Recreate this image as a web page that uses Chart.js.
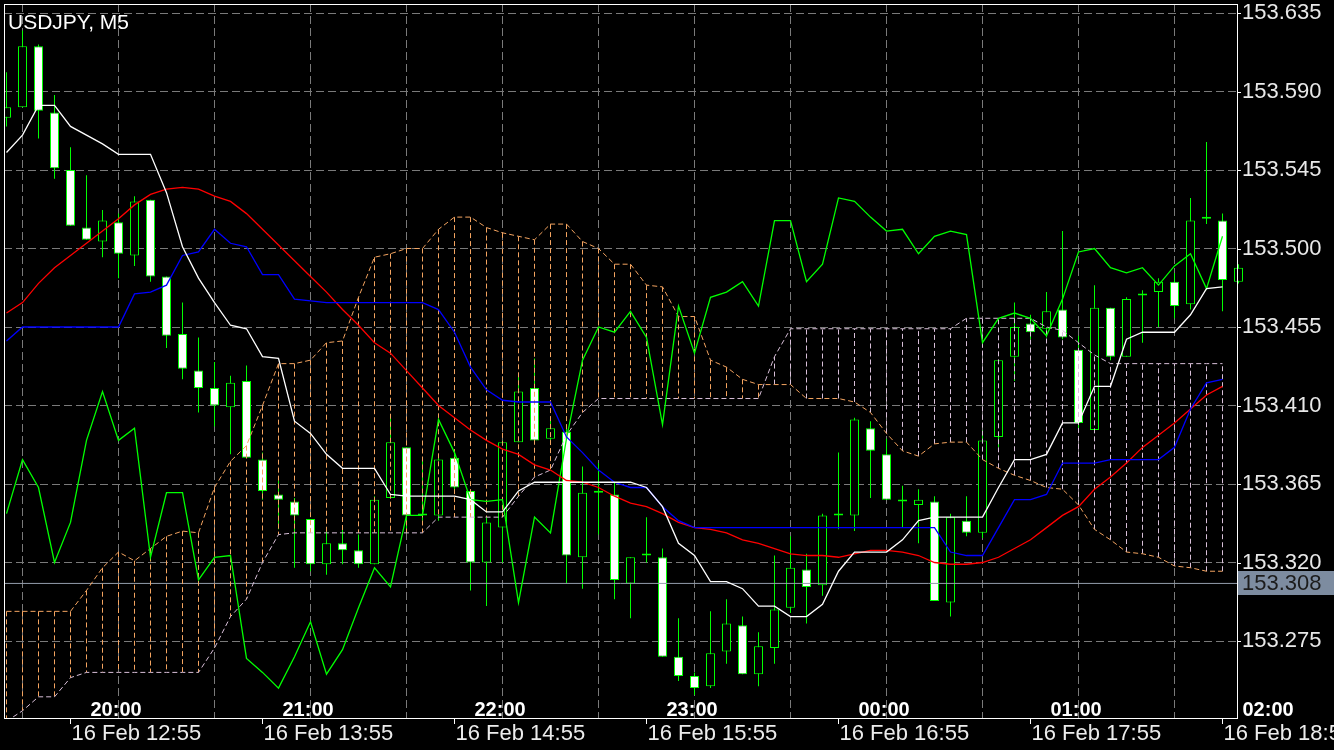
<!DOCTYPE html>
<html>
<head>
<meta charset="utf-8">
<title>USDJPY, M5</title>
<script src="https://cdn.jsdelivr.net/npm/chart.js@4.4.1/dist/chart.umd.min.js"></script>
<style>
  html, body { margin: 0; padding: 0; background: #000; overflow: hidden; }
  #wrap { width: 1334px; height: 750px; }
</style>
</head>
<body>
<div id="wrap"><canvas id="fxChart" width="1334" height="750"></canvas></div>
<script>
// ==========================================
// data (M5 bars)
// ==========================================
const symbolTitle = 'USDJPY, M5';
const bidPrice = 153.308;
const priceTicks = [153.635, 153.590, 153.545, 153.500, 153.455, 153.410, 153.365, 153.320, 153.275];
const hourLabels = ['20:00', '21:00', '22:00', '23:00', '00:00', '01:00', '02:00'];
const dateLabels = ['16 Feb 12:55', '16 Feb 13:55', '16 Feb 14:55', '16 Feb 15:55', '16 Feb 16:55', '16 Feb 17:55', '16 Feb 18:55'];

const candleOpen = [
  153.575, 153.581, 153.616, 153.578, 153.545, 153.512, 153.504, 153.515, 153.496, 153.528,
  153.484, 153.451, 153.430, 153.420, 153.409, 153.424, 153.379, 153.359, 153.355, 153.345,
  153.319, 153.331, 153.327, 153.319, 153.357, 153.386, 153.347, 153.347, 153.380, 153.361,
  153.320, 153.340, 153.389, 153.420, 153.391, 153.395, 153.323, 153.360, 153.359, 153.308,
  153.324, 153.323, 153.266, 153.255, 153.249, 153.269, 153.284, 153.256, 153.271, 153.294,
  153.316, 153.307, 153.347, 153.347, 153.397, 153.382, 153.355, 153.353, 153.355, 153.297,
  153.344, 153.337, 153.392, 153.438, 153.457, 153.454, 153.465, 153.442, 153.396, 153.466,
  153.438, 153.474, 153.475, 153.481, 153.468, 153.518, 153.516, 153.481
];
const candleHigh = [
  153.601, 153.625, 153.617, 153.588, 153.558, 153.542, 153.522, 153.520, 153.530, 153.528,
  153.484, 153.469, 153.449, 153.435, 153.427, 153.433, 153.383, 153.367, 153.357, 153.345,
  153.338, 153.339, 153.336, 153.358, 153.403, 153.386, 153.379, 153.382, 153.382, 153.361,
  153.346, 153.390, 153.427, 153.437, 153.402, 153.398, 153.375, 153.377, 153.366, 153.323,
  153.346, 153.328, 153.288, 153.257, 153.292, 153.299, 153.289, 153.280, 153.324, 153.335,
  153.325, 153.348, 153.383, 153.403, 153.401, 153.391, 153.364, 153.362, 153.358, 153.348,
  153.358, 153.396, 153.436, 153.469, 153.462, 153.475, 153.510, 153.450, 153.479, 153.466,
  153.472, 153.476, 153.483, 153.486, 153.529, 153.561, 153.520, 153.491
];
const candleLow = [
  153.570, 153.581, 153.563, 153.540, 153.513, 153.505, 153.495, 153.483, 153.490, 153.481,
  153.443, 153.425, 153.406, 153.398, 153.382, 153.380, 153.356, 153.339, 153.317, 153.315,
  153.313, 153.319, 153.317, 153.319, 153.357, 153.337, 153.344, 153.344, 153.362, 153.304,
  153.295, 153.320, 153.389, 153.390, 153.389, 153.308, 153.305, 153.336, 153.299, 153.288,
  153.320, 153.266, 153.252, 153.244, 153.248, 153.262, 153.256, 153.249, 153.262, 153.291,
  153.285, 153.301, 153.339, 153.338, 153.357, 153.356, 153.340, 153.331, 153.298, 153.289,
  153.335, 153.334, 153.386, 153.424, 153.448, 153.449, 153.448, 153.396, 153.396, 153.436,
  153.438, 153.446, 153.455, 153.460, 153.465, 153.514, 153.464, 153.480
];
const candleClose = [
  153.581, 153.616, 153.579, 153.546, 153.513, 153.505, 153.516, 153.497, 153.527, 153.484,
  153.450, 153.431, 153.420, 153.410, 153.423, 153.380, 153.361, 153.356, 153.347, 153.319,
  153.331, 153.327, 153.319, 153.356, 153.389, 153.347, 153.347, 153.379, 153.363, 153.320,
  153.343, 153.389, 153.418, 153.390, 153.397, 153.324, 153.360, 153.360, 153.310, 153.323,
  153.324, 153.266, 153.255, 153.248, 153.268, 153.285, 153.256, 153.272, 153.293, 153.317,
  153.306, 153.347, 153.347, 153.402, 153.384, 153.356, 153.355, 153.356, 153.298, 153.346,
  153.337, 153.390, 153.436, 153.455, 153.452, 153.464, 153.449, 153.400, 153.466, 153.438,
  153.471, 153.473, 153.481, 153.467, 153.516, 153.517, 153.482, 153.489
];

// ichimoku + MA lines, one value per bar
const tenkanLine = [
  153.555, 153.565, 153.582, 153.582, 153.570, 153.565, 153.560, 153.554, 153.554, 153.554,
  153.532, 153.501, 153.483, 153.469, 153.456, 153.454, 153.438, 153.437, 153.401, 153.394,
  153.382, 153.374, 153.374, 153.374, 153.359, 153.358, 153.358, 153.358, 153.358, 153.356,
  153.349, 153.349, 153.361, 153.366, 153.366, 153.366, 153.366, 153.366, 153.366, 153.366,
  153.363, 153.352, 153.331, 153.324, 153.309, 153.309, 153.305, 153.295, 153.295, 153.289,
  153.289, 153.296, 153.315, 153.326, 153.326, 153.326, 153.333, 153.344, 153.346, 153.346,
  153.346, 153.346, 153.363, 153.379, 153.379, 153.382, 153.400, 153.400, 153.421, 153.421,
  153.448, 153.452, 153.452, 153.452, 153.462, 153.477, 153.478
];
const kijunLine = [
  153.447, 153.455, 153.455, 153.455, 153.455, 153.455, 153.455, 153.455, 153.474, 153.475,
  153.479, 153.496, 153.498, 153.511, 153.503, 153.501, 153.485, 153.485, 153.471, 153.470,
  153.469, 153.469, 153.469, 153.469, 153.469, 153.469, 153.469, 153.465, 153.452, 153.432,
  153.419, 153.413, 153.412, 153.412, 153.412, 153.392, 153.383, 153.373, 153.366, 153.363,
  153.363, 153.352, 153.344, 153.340, 153.340, 153.340, 153.340, 153.340, 153.340, 153.340,
  153.340, 153.340, 153.340, 153.340, 153.340, 153.340, 153.340, 153.340, 153.340, 153.326,
  153.324, 153.324, 153.340, 153.356, 153.356, 153.359, 153.377, 153.377, 153.377, 153.379,
  153.379, 153.379, 153.379, 153.386, 153.408, 153.423, 153.425
];
const maLine = [
  153.463, 153.469, 153.480, 153.489, 153.496, 153.503, 153.510, 153.517, 153.525, 153.531,
  153.534, 153.535, 153.534, 153.530, 153.527, 153.520, 153.511, 153.502, 153.493, 153.484,
  153.475, 153.465, 153.456, 153.446, 153.440, 153.430, 153.420, 153.410, 153.403, 153.396,
  153.390, 153.385, 153.382, 153.376, 153.373, 153.367, 153.366, 153.363, 153.358, 153.354,
  153.352, 153.348, 153.343, 153.340, 153.339, 153.337, 153.333, 153.331, 153.328, 153.325,
  153.324, 153.324, 153.323, 153.325, 153.327, 153.327, 153.326, 153.324, 153.320, 153.319,
  153.319, 153.320, 153.323, 153.328, 153.333, 153.340, 153.347, 153.352, 153.362, 153.369,
  153.377, 153.386, 153.393, 153.400, 153.408, 153.416, 153.421
];
const chikouLine = [
  153.348, 153.379, 153.363, 153.320, 153.343, 153.390, 153.418, 153.390, 153.397, 153.323,
  153.360, 153.360, 153.310, 153.323, 153.324, 153.265, 153.257, 153.248, 153.266, 153.286,
  153.256, 153.270, 153.294, 153.317, 153.306, 153.347, 153.347, 153.402, 153.383, 153.356,
  153.355, 153.356, 153.297, 153.346, 153.337, 153.391, 153.436, 153.455, 153.452, 153.464,
  153.449, 153.399, 153.467, 153.440, 153.472, 153.475, 153.481, 153.467, 153.516, 153.516,
  153.481, 153.491, 153.529, 153.527, 153.518, 153.510, 153.511, 153.497, 153.507, 153.510,
  153.508, 153.446, 153.460, 153.463, 153.460, 153.450, 153.471, 153.498, 153.500, 153.489,
  153.486, 153.489, 153.479, 153.490, 153.497, 153.477, 153.507
];
const spanA = [
  153.292, 153.292, 153.292, 153.292, 153.292, 153.304, 153.317, 153.326, 153.321, 153.328,
  153.335, 153.338, 153.337, 153.363, 153.378, 153.387, 153.410, 153.434, 153.434, 153.436,
  153.446, 153.447, 153.472, 153.495, 153.497, 153.500, 153.500, 153.511, 153.518, 153.518,
  153.512, 153.509, 153.507, 153.505, 153.514, 153.514, 153.504, 153.500, 153.491, 153.491,
  153.479, 153.478, 153.461, 153.461, 153.436, 153.432, 153.425, 153.422, 153.422, 153.422,
  153.414, 153.414, 153.414, 153.412, 153.406, 153.394, 153.384, 153.381, 153.388, 153.389,
  153.389, 153.379, 153.374, 153.370, 153.367, 153.363, 153.362, 153.353, 153.339, 153.333,
  153.326, 153.325, 153.323, 153.318, 153.317, 153.315, 153.315
];
const spanB = [
  153.229, 153.235, 153.243, 153.243, 153.254, 153.257, 153.257, 153.257, 153.257, 153.257,
  153.257, 153.257, 153.257, 153.271, 153.289, 153.299, 153.320, 153.336, 153.337, 153.337,
  153.337, 153.337, 153.337, 153.337, 153.337, 153.337, 153.337, 153.346, 153.346, 153.346,
  153.346, 153.346, 153.358, 153.369, 153.373, 153.393, 153.406, 153.414, 153.414, 153.414,
  153.414, 153.414, 153.414, 153.414, 153.414, 153.414, 153.414, 153.414, 153.438, 153.454,
  153.454, 153.454, 153.454, 153.454, 153.454, 153.454, 153.454, 153.454, 153.454, 153.454,
  153.460, 153.460, 153.460, 153.460, 153.460, 153.455, 153.453, 153.446, 153.439, 153.434,
  153.434, 153.434, 153.434, 153.434, 153.434, 153.434, 153.434
];

// ==========================================
// layout of the terminal window
// ==========================================
const FONT = "'Liberation Sans', Arial, sans-serif";
const BAR_PX = 16;                 // one M5 bar = 16px
const X_MIN = -2.5 / BAR_PX;       // bar 0 sits 2.5px right of the frame
const X_MAX = X_MIN + 1233 / BAR_PX;
const Y_MIN = 153.23086, Y_MAX = 153.64016;
const gridBars = [4, 10, 16, 22, 28, 34, 40, 46, 52, 58, 64, 70, 76];
const GREEN = '#00ff00', GRID = '#7a7a7a';

const pts = arr => arr.map((v, i) => ({ x: i, y: v }));

// kumo hatching: one dashed vertical per bar, coloured by which span is on top
const hatchUp = [], hatchDown = [];
spanA.forEach((a, i) => {
  const target = a >= spanB[i] ? hatchUp : hatchDown;
  target.push({ x: i, y: a }, { x: i, y: spanB[i] }, { x: i, y: null });
});

const lineDs = (label, data, color, order, extra) => Object.assign({
  type: 'line', label, data, borderColor: color, borderWidth: 1.3, pointRadius: 0,
  tension: 0, fill: false, spanGaps: false, order
}, extra || {});

const candleClip = { left: 0, top: 0, right: 6, bottom: 0 };

// ==========================================
// overlay: frame, title, time labels, bid box
// ==========================================
const terminalOverlay = {
  id: 'terminalOverlay',
  afterDraw(chart) {
    const { ctx, chartArea: a, scales: { x, y } } = chart;
    ctx.save();
    ctx.strokeStyle = '#ffffff'; ctx.lineWidth = 1;
    ctx.strokeRect(a.left + 0.5, a.top + 0.5, a.right - a.left, a.bottom - a.top);

    // little tick marks on the axes
    ctx.beginPath();
    priceTicks.forEach(p => { const py = Math.round(y.getPixelForValue(p)) + 0.5; ctx.moveTo(a.right + 1, py); ctx.lineTo(a.right + 4, py); });
    dateLabels.forEach((_, k) => { const px = Math.round(x.getPixelForValue(4 + k * 12) - 0.5) + 0.5; ctx.moveTo(px, a.bottom + 1); ctx.lineTo(px, a.bottom + 6); });
    ctx.stroke();

    // bid price box
    const by = y.getPixelForValue(bidPrice);
    ctx.fillStyle = '#7d8ca0';
    ctx.fillRect(a.right + 1, Math.round(by) - 12, chart.width - a.right - 1, 24);
    ctx.fillStyle = '#1c1c1c'; ctx.font = `22px ${FONT}`; ctx.textBaseline = 'middle'; ctx.textAlign = 'left';
    ctx.fillText(bidPrice.toFixed(3), a.right + 5, by + 1);

    // symbol title
    ctx.fillStyle = '#ffffff'; ctx.textBaseline = 'alphabetic';
    ctx.font = `21px ${FONT}`;
    ctx.fillText(symbolTitle, a.left + 4, 29);

    // hour labels inside the chart and date labels under it
    ctx.font = `bold 20px ${FONT}`;
    hourLabels.forEach((t, k) => ctx.fillText(t, x.getPixelForValue(5 + k * 12) + 4, a.bottom - 2));
    ctx.font = `22px ${FONT}`; ctx.fillStyle = '#ececec';
    dateLabels.forEach((t, k) => ctx.fillText(t, x.getPixelForValue(4 + k * 12) + 1, a.bottom + 22));
    ctx.restore();
  }
};

Chart.defaults.font.family = FONT;

new Chart(document.getElementById('fxChart').getContext('2d'), {
  type: 'line',
  data: {
    datasets: [
      lineDs('Tenkan', pts(tenkanLine), '#ffffff', 2),
      lineDs('Kijun', pts(kijunLine), '#0000ff', 3),
      lineDs('MA', pts(maLine), '#ff0000', 4),
      lineDs('Chikou', pts(chikouLine), GREEN, 5),
      lineDs('Span B', pts(spanB), '#d8bfd8', 10, { borderDash: [5, 3], borderWidth: 1 }),
      lineDs('Span A', pts(spanA), '#f4a460', 11, { borderDash: [5, 3], borderWidth: 1 }),
      lineDs('Kumo down', hatchDown, '#d8bfd8', 12, { borderDash: [5, 3], borderWidth: 1 }),
      lineDs('Kumo up', hatchUp, '#f4a460', 13, { borderDash: [5, 3], borderWidth: 1 }),
      lineDs('Bid', [{ x: X_MIN, y: bidPrice }, { x: X_MAX, y: bidPrice }], '#939dab', 20, { borderWidth: 1 }),
      {
        type: 'bar', label: 'Bodies', order: 28, grouped: false, barThickness: 9, minBarLength: 2,
        data: candleOpen.map((o, i) => ({ x: i, y: [o, candleClose[i]] })),
        backgroundColor: candleOpen.map((o, i) => candleClose[i] < o ? '#ffffff' : '#000000'),
        borderColor: GREEN, borderWidth: 1, borderSkipped: false, inflateAmount: 0, clip: candleClip
      },
      {
        type: 'bar', label: 'Wicks', order: 29, grouped: false, barThickness: 1,
        data: candleLow.map((l, i) => ({ x: i, y: [l, candleHigh[i]] })),
        backgroundColor: GREEN, borderWidth: 0, inflateAmount: 0, clip: candleClip
      }
    ]
  },
  options: {
    responsive: false, devicePixelRatio: 1, animation: false, events: [],
    layout: { padding: { left: 4, top: 4, right: 0, bottom: 0 } },
    plugins: { legend: { display: false }, tooltip: { enabled: false } },
    scales: {
      x: {
        type: 'linear', min: X_MIN, max: X_MAX, offset: false,
        grid: { color: GRID, lineWidth: 1, drawTicks: false },
        border: { display: false, dash: [8, 4] },
        ticks: { display: false },
        afterBuildTicks: s => { s.ticks = gridBars.map(v => ({ value: v })); },
        afterFit: s => { s.height = 32; s.paddingLeft = 0; s.paddingRight = 0; }
      },
      y: {
        type: 'linear', position: 'right', min: Y_MIN, max: Y_MAX,
        grid: { color: GRID, lineWidth: 1, drawTicks: false },
        border: { display: false, dash: [8, 4] },
        ticks: { color: '#e8e8e8', padding: 5, font: { size: 22 }, autoSkip: false, callback: v => Number(v).toFixed(3) },
        afterBuildTicks: s => { s.ticks = priceTicks.map(v => ({ value: v })); },
        afterFit: s => { s.width = 97; s.paddingTop = 0; s.paddingBottom = 0; }
      }
    }
  },
  plugins: [terminalOverlay]
});
</script>
</body>
</html>
